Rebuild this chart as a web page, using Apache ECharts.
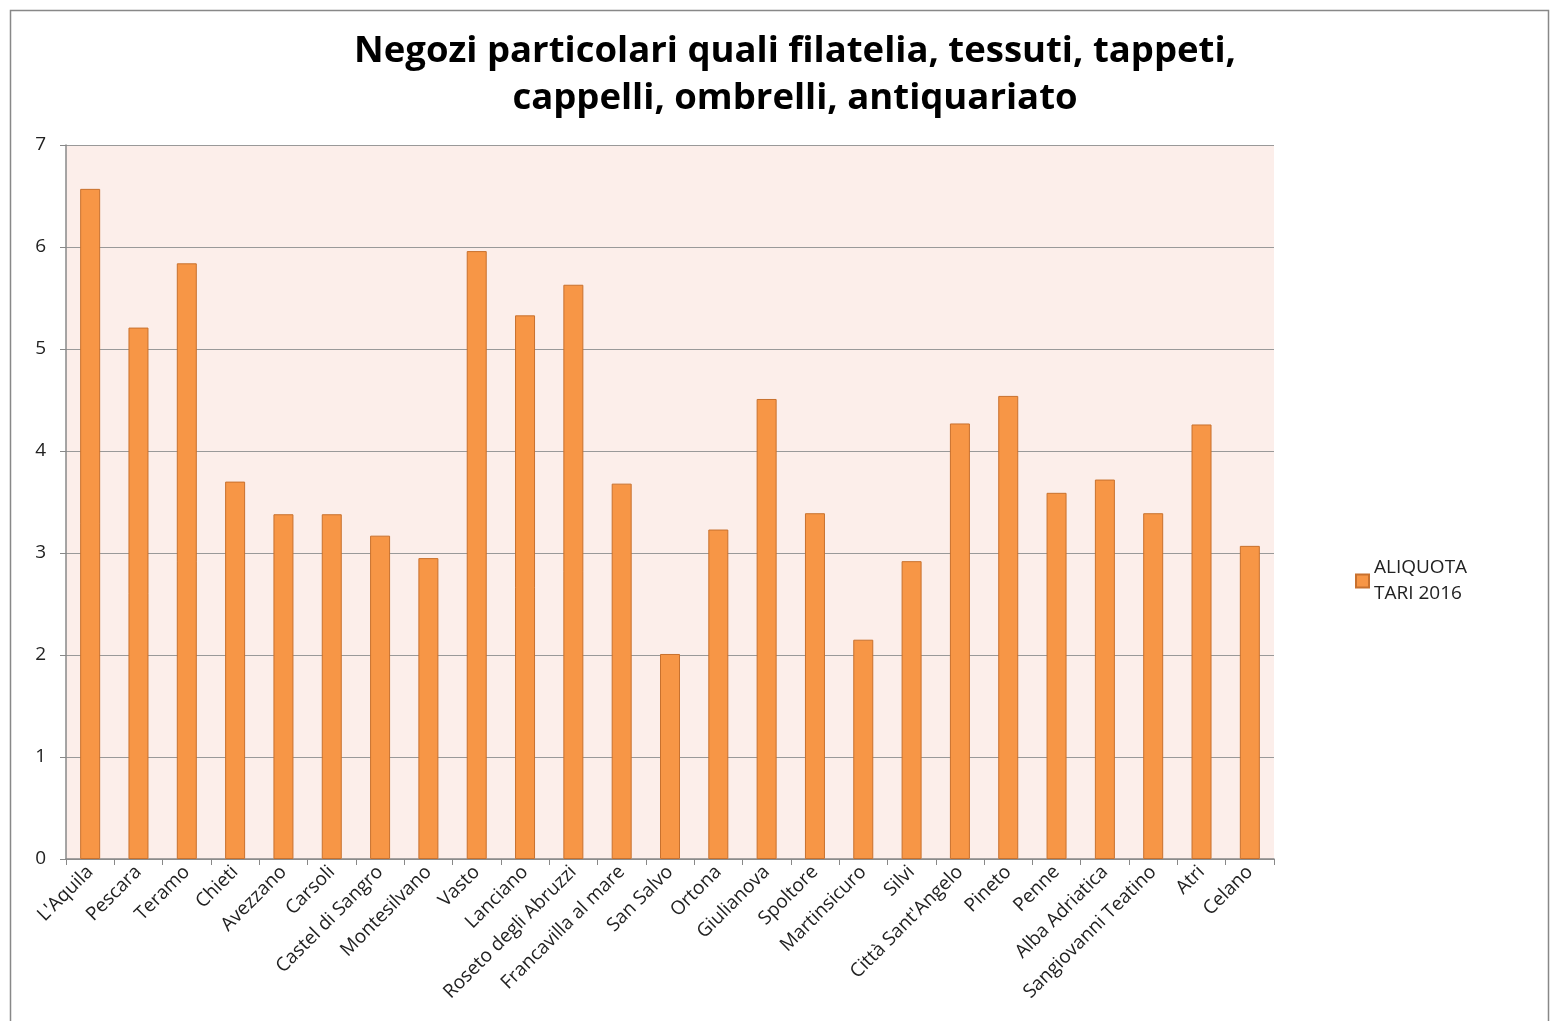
<!DOCTYPE html>
<html>
<head>
<meta charset="utf-8">
<script src="https://cdn.jsdelivr.net/npm/echarts@6/dist/echarts.min.js"></script>
<style>
  html, body { margin: 0; padding: 0; background: #fff; }
  #chart { width: 1553px; height: 1021px; }
</style>
</head>
<body>
<div id="chart"></div>
<script>
const titleText = 'Negozi particolari quali filatelia, tessuti, tappeti,\ncappelli, ombrelli, antiquariato';
const seriesName = 'ALIQUOTA\nTARI 2016';

const cities = [
  "L'Aquila", 'Pescara', 'Teramo', 'Chieti', 'Avezzano', 'Carsoli', 'Castel di Sangro',
  'Montesilvano', 'Vasto', 'Lanciano', 'Roseto degli Abruzzi', 'Francavilla al mare',
  'San Salvo', 'Ortona', 'Giulianova', 'Spoltore', 'Martinsicuro', 'Silvi',
  "Città Sant'Angelo", 'Pineto', 'Penne', 'Alba Adriatica', 'Sangiovanni Teatino', 'Atri', 'Celano'
];

const aliquota = [
  6.57, 5.21, 5.84, 3.70, 3.38, 3.38, 3.17,
  2.95, 5.96, 5.33, 5.63, 3.68,
  2.01, 3.23, 4.51, 3.39, 2.15, 2.92,
  4.27, 4.54, 3.59, 3.72, 3.39, 4.26, 3.07
];

const chart = echarts.init(document.getElementById('chart'));

chart.setOption({
  animation: false,
  backgroundColor: '#ffffff',
  textStyle: { fontFamily: 'Open Sans' },
  graphic: [{
    type: 'rect',
    shape: { x: 10.5, y: 10.5, width: 1538, height: 1020 },
    style: { fill: 'none', stroke: '#888888', lineWidth: 1.5 },
    silent: true,
  }],
  title: {
    text: titleText,
    left: 790,
    top: 23,
    textAlign: 'center',
    textStyle: {
      fontFamily: 'Open Sans',
      fontWeight: 'bold',
      fontSize: 36.5,
      lineHeight: 47,
      color: '#000',
    },
  },
  legend: {
    orient: 'vertical',
    left: 1350,
    top: 550,
    itemWidth: 13,
    itemHeight: 13,
    itemGap: 6,
    icon: 'rect',
    textStyle: { fontSize: 19, color: '#222', lineHeight: 26 },
  },
  grid: {
    left: 66,
    right: 279,
    top: 145,
    bottom: 162,
    show: true,
    backgroundColor: '#FCEEEA',
    borderWidth: 0,
  },
  xAxis: {
    type: 'category',
    data: cities,
    axisLine: { lineStyle: { color: '#888', width: 1.5 } },
    axisTick: { show: true, length: 6, alignWithLabel: false, lineStyle: { color: '#888' } },
    axisLabel: {
      interval: 0,
      rotate: 45,
      fontSize: 19,
      color: '#222',
      margin: 10,
    },
  },
  yAxis: {
    type: 'value',
    min: 0,
    max: 7,
    interval: 1,
    axisLine: { show: true, lineStyle: { color: '#888', width: 1.5 } },
    axisTick: { show: true, length: 6, lineStyle: { color: '#888' } },
    axisLabel: { fontSize: 19, color: '#222', margin: 20 },
    splitLine: { lineStyle: { color: '#999', width: 1.2 } },
  },
  series: [{
    name: seriesName,
    type: 'bar',
    data: aliquota,
    barWidth: 20,
    itemStyle: {
      color: '#F79646',
      borderColor: '#C8712E',
      borderWidth: 1,
    },
  }],
});
</script>
</body>
</html>
